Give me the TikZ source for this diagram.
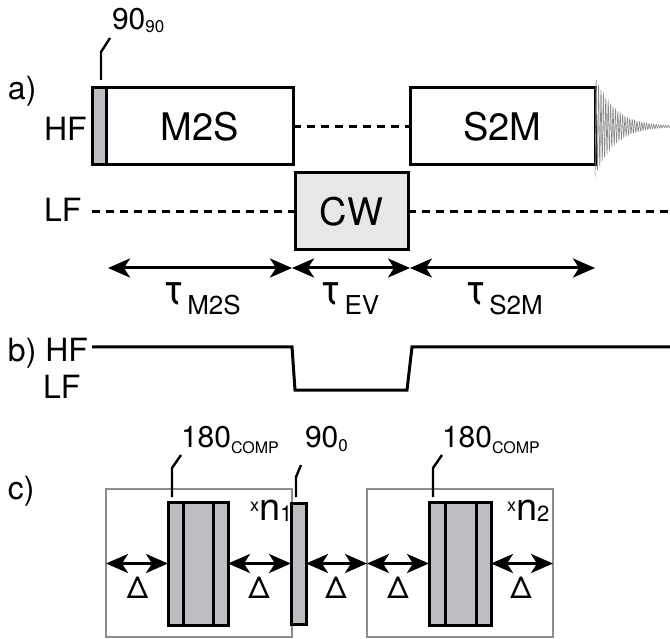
\documentclass[tikz,border=0pt]{standalone}
\usepackage{fontspec}
\setmainfont{TeX Gyre Heros}
\usetikzlibrary{arrows.meta}
\definecolor{pulsegray}{HTML}{BCBEC1}
\definecolor{cwgray}{HTML}{E6E7E9}
\definecolor{boxgray}{HTML}{8C8C8C}
\definecolor{fidgray}{HTML}{8A8A8A}
\newcommand{\fsz}[1]{\fontsize{#1}{#1}\selectfont}
\tikzset{
  box/.style={draw=black, line width=3pt, inner sep=0pt, outer sep=0pt, font=\fsz{38}},
  pulse/.style={box, fill=pulsegray},
  rep/.style={draw=boxgray, line width=2.4pt, inner sep=0pt, outer sep=0pt},
  lbl/.style={inner sep=0pt, outer sep=0pt, font=\fsz{32}},
  dashline/.style={line width=2.4pt, dash pattern=on 8pt off 6pt},
  dbl/.style={line width=3pt, {Stealth[length=22pt,width=19pt,inset=6pt]}-{Stealth[length=22pt,width=19pt,inset=6pt]}},
  leader/.style={line width=2.4pt},
  sig/.style={line width=3pt, line join=miter}
}
\begin{document}
\begin{tikzpicture}[x=1pt,y=-1pt]
\useasboundingbox (0,0) rectangle (670,639);
% ---------- a)
\node[lbl, anchor=base west] (la) at (8,100) {a)};
\node[lbl, anchor=base west] (hfa) at (44,141) {HF};
\node[lbl, anchor=base west] (lfa) at (44,222) {LF};
\node[pulse, minimum width=14pt, minimum height=77pt] (p90) at (99,126.5) {};
\node[box, minimum width=187pt, minimum height=77pt] (m2s) at (199.5,126.5) {M2S};
\node[box, minimum width=185pt, minimum height=77pt] (s2m) at (502.5,126.5) {S2M};
\node[box, fill=cwgray, minimum width=113pt, minimum height=77pt] (cw) at (351.5,211.5) {CW};
\draw[dashline] (m2s.east) -- (s2m.west);
\coordinate (lfs) at (92,211.5);
\coordinate (lfe) at (670,211.5);
\draw[dashline] (lfs) -- (cw.west);
\draw[dashline] (cw.east) -- (lfe);
% FID
\draw[fidgray, line width=0.6pt] plot[domain=0:75, samples=700] ({595+\x}, {126.5+50*exp(-\x/19)*cos(\x*150)});
% 90_90 label
\node[lbl, anchor=base west, font=\fsz{30}] (t9090) at (112,30) {90\raisebox{-3pt}{\fsz{17}90}};
\draw[leader] ([shift={(2,-8)}]p90.north) -- ++(0,-28) -- ++(9,-14);
% tau arrows
\coordinate (tA) at (108,268);
\coordinate (tB) at (292,268);
\coordinate (tC) at (410,268);
\coordinate (tD) at (595,268);
\draw[dbl] (tA) -- (tB);
\draw[dbl] (tB) -- (tC);
\draw[dbl] (tC) -- (tD);
\node[lbl, anchor=base] (tm2s) at (202,305) {\fsz{42}τ\hspace{3pt}\raisebox{-10pt}{\fsz{26}M2S}};
\node[lbl, anchor=base] (tev) at (350,305) {\fsz{42}τ\hspace{3pt}\raisebox{-10pt}{\fsz{26}EV}};
\node[lbl, anchor=base] (ts2m) at (504,305) {\fsz{42}τ\hspace{3pt}\raisebox{-10pt}{\fsz{26}S2M}};
% ---------- b)
\node[lbl, anchor=base west] (lb) at (8,362) {b) HF};
\node[lbl, anchor=base west] (lfb) at (43,399) {LF};
\coordinate (b0) at (92,347);
\coordinate (b5) at (670,347);
\draw[sig] (b0) -- (292,347) -- (295,390) -- (407,390) -- (412,347) -- (b5);
% ---------- c)
\node[lbl, anchor=base west] (lc) at (8,499) {c)};
\node[rep, minimum width=186pt, minimum height=148pt] (box1) at (199,563) {};
\node[rep, minimum width=186pt, minimum height=148pt] (box2) at (460,563) {};
\node[pulse, minimum width=60pt, minimum height=123pt] (p180a) at (198,563.5) {};
\draw[line width=3pt] ([xshift=15pt]p180a.north west) -- ([xshift=15pt]p180a.south west);
\draw[line width=3pt] ([xshift=-15pt]p180a.north east) -- ([xshift=-15pt]p180a.south east);
\node[pulse, minimum width=15pt, minimum height=121pt] (p90b) at (298.5,563.5) {};
\node[pulse, minimum width=62pt, minimum height=123pt] (p180b) at (460,563.5) {};
\draw[line width=3pt] ([xshift=16pt]p180b.north west) -- ([xshift=16pt]p180b.south west);
\draw[line width=3pt] ([xshift=-15pt]p180b.north east) -- ([xshift=-15pt]p180b.south east);
% leaders and labels
\draw[leader] ([shift={(4,-5)}]p180a.north west) -- ++(0,-29) -- ++(9,-13);
\node[lbl, anchor=base west, font=\fsz{30}] (l180a) at (181,447) {180\raisebox{-6pt}{\fsz{16}COMP}};
\draw[leader] ([shift={(5,-6)}]p90b.north west) -- ++(0,-20) -- ++(5,-12);
\node[lbl, anchor=base west, font=\fsz{30}] (l900) at (305,447) {90\raisebox{-4pt}{\fsz{17}0}};
\draw[leader] ([shift={(4,-5)}]p180b.north west) -- ++(0,-29) -- ++(9,-13);
\node[lbl, anchor=base west, font=\fsz{30}] (l180b) at (442,447) {180\raisebox{-6pt}{\fsz{16}COMP}};
\node[lbl, anchor=base west] (n1) at (250,520) {\raisebox{9pt}{\fsz{18}x}\fsz{38}n\raisebox{-1pt}{\fsz{22}1}};
\node[lbl, anchor=base west] (n2) at (507,520) {\raisebox{9pt}{\fsz{18}x}\fsz{38}n\raisebox{-1pt}{\fsz{22}2}};
% delta arrows
\draw[dbl] ([yshift=-0.5pt]box1.west) -- (p180a.west);
\draw[dbl] (p180a.east) -- (p90b.west);
\draw[dbl] (p90b.east) -- ([yshift=-0.5pt]box2.west);
\draw[dbl] ([yshift=-0.5pt]box2.west) -- (p180b.west);
\draw[dbl] (p180b.east) -- ([yshift=-0.5pt]box2.east);
\node[lbl, anchor=base, font=\fsz{30}] (d1) at (137.5,598) {Δ};
\node[lbl, anchor=base, font=\fsz{30}] (d2) at (259,598) {Δ};
\node[lbl, anchor=base, font=\fsz{30}] (d3) at (336,598) {Δ};
\node[lbl, anchor=base, font=\fsz{30}] (d4) at (398,598) {Δ};
\node[lbl, anchor=base, font=\fsz{30}] (d5) at (521,598) {Δ};
\end{tikzpicture}
\end{document}
